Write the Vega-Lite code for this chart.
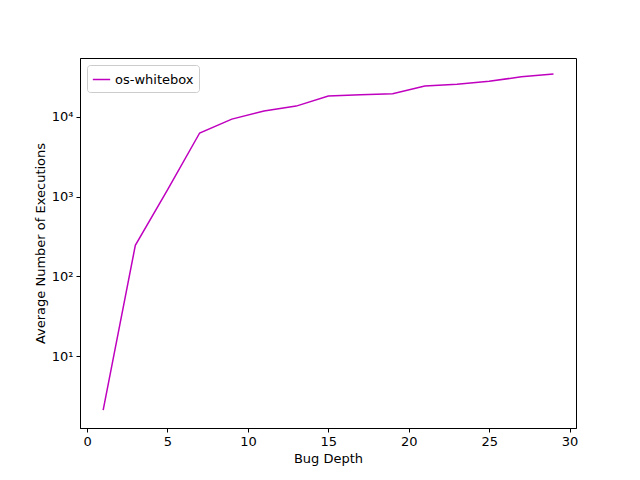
{
  "$schema": "https://vega.github.io/schema/vega-lite/v6.json",
  "width": 496,
  "height": 370,
  "autosize": {"type": "none"},
  "padding": {"left": 80, "top": 58, "right": 64, "bottom": 52},
  "background": "white",
  "data": {
    "values": [
      {"depth": 1, "execs": 2.1, "series": "os-whitebox"},
      {"depth": 3, "execs": 245, "series": "os-whitebox"},
      {"depth": 5, "execs": 1220, "series": "os-whitebox"},
      {"depth": 7, "execs": 6300, "series": "os-whitebox"},
      {"depth": 9, "execs": 9400, "series": "os-whitebox"},
      {"depth": 11, "execs": 11900, "series": "os-whitebox"},
      {"depth": 13, "execs": 13700, "series": "os-whitebox"},
      {"depth": 15, "execs": 18300, "series": "os-whitebox"},
      {"depth": 17, "execs": 19000, "series": "os-whitebox"},
      {"depth": 19, "execs": 19600, "series": "os-whitebox"},
      {"depth": 21, "execs": 24500, "series": "os-whitebox"},
      {"depth": 23, "execs": 25800, "series": "os-whitebox"},
      {"depth": 25, "execs": 28000, "series": "os-whitebox"},
      {"depth": 27, "execs": 32000, "series": "os-whitebox"},
      {"depth": 29, "execs": 34600, "series": "os-whitebox"}
    ]
  },
  "mark": {"type": "line", "strokeWidth": 1.5},
  "encoding": {
    "x": {
      "field": "depth", "type": "quantitative", "title": "Bug Depth",
      "scale": {"domain": [-0.44, 30.4], "nice": false, "zero": false},
      "axis": {"values": [0, 5, 10, 15, 20, 25, 30], "grid": false}
    },
    "y": {
      "field": "execs", "type": "quantitative", "title": "Average Number of Executions",
      "scale": {"type": "log", "domain": [1.25, 55000], "nice": false},
      "axis": {
        "values": [10, 100, 1000, 10000], "grid": false,
        "labelExpr": "datum.value == 10 ? '10¹' : datum.value == 100 ? '10²' : datum.value == 1000 ? '10³' : '10⁴'"
      }
    },
    "color": {
      "field": "series", "type": "nominal",
      "scale": {"range": ["#bf00bf"]},
      "legend": {
        "title": null, "orient": "top-left", "offset": 7, "symbolType": "stroke",
        "strokeColor": "#cccccc", "padding": 5, "cornerRadius": 3,
        "fillColor": "white", "labelFontSize": 13, "symbolSize": 300, "symbolStrokeWidth": 1.5
      }
    }
  },
  "config": {
    "font": "DejaVu Sans",
    "view": {"stroke": "black", "strokeWidth": 1},
    "axis": {
      "domainColor": "black", "tickColor": "black", "labelColor": "black",
      "titleColor": "black", "labelFontSize": 13, "titleFontSize": 13,
      "titleFontWeight": "normal", "tickSize": 4, "labelPadding": 3
    }
  }
}
